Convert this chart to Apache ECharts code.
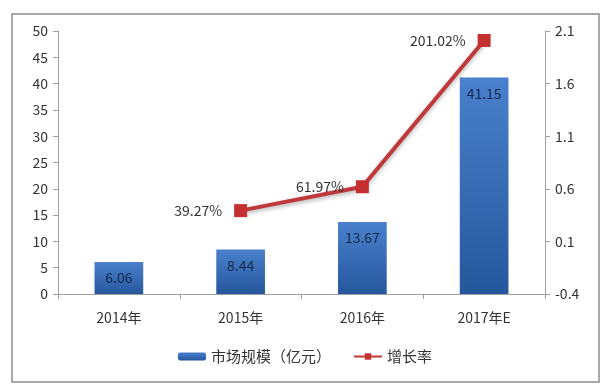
<!DOCTYPE html>
<html>
<head>
<meta charset="utf-8">
<style>
  html, body { margin: 0; padding: 0; background: #fff; }
  #chart { width: 610px; height: 390px; }
</style>
<script src="https://cdn.jsdelivr.net/npm/echarts@6/dist/echarts.min.js"></script>
</head>
<body>
<div id="chart"></div>
<script>
// 类目和数据
var years = ['2014年', '2015年', '2016年', '2017年E'];
var marketSize = [6.06, 8.44, 13.67, 41.15]; // 市场规模（亿元）
var growthRate = [null, 0.3927, 0.6197, 2.0102]; // 增长率
var rightTicks = [-0.4, 0.1, 0.6, 1.1, 1.6, 2.1];

var font = 'Noto Sans CJK SC';
var myChart = echarts.init(document.getElementById('chart'), null, { renderer: 'canvas' });

var option = {
  animation: false,
  textStyle: { fontFamily: font },
  graphic: [{
    // 外边框
    type: 'rect',
    shape: { x: 12, y: 14, width: 587, height: 368 },
    style: { fill: 'none', stroke: '#8c8c8c', lineWidth: 1.5 },
    silent: true
  }],
  grid: { left: 58, right: 65, top: 31, bottom: 96 },
  legend: {
    bottom: 21,
    left: 'center',
    itemWidth: 28,
    itemHeight: 8,
    itemGap: 22,
    textStyle: { color: '#333', fontSize: 15, fontFamily: font },
    data: ['市场规模（亿元）', '增长率']
  },
  xAxis: {
    type: 'category',
    data: years,
    axisLine: { lineStyle: { color: '#a0a0a0', width: 1 } },
    axisTick: { show: true, lineStyle: { color: '#a0a0a0' }, length: 5 },
    axisLabel: { color: '#333', fontSize: 14, margin: 17 }
  },
  yAxis: [
    {
      type: 'value',
      min: 0,
      max: 50,
      interval: 5,
      axisLine: { show: true, lineStyle: { color: '#a0a0a0' } },
      axisTick: { show: true, length: 5, lineStyle: { color: '#a0a0a0' } },
      splitLine: { show: false },
      axisLabel: { color: '#333', fontSize: 14, margin: 10 }
    },
    {
      type: 'value',
      min: -0.4,
      max: 2.1,
      axisLine: { show: true, lineStyle: { color: '#a0a0a0' } },
      axisTick: { show: true, length: 5, lineStyle: { color: '#a0a0a0' }, customValues: rightTicks },
      splitLine: { show: false },
      axisLabel: {
        color: '#333', fontSize: 14, margin: 10,
        customValues: rightTicks,
        formatter: function (v) { return (Math.round(v * 10) / 10).toString(); }
      }
    }
  ],
  series: [
    {
      name: '市场规模（亿元）',
      type: 'bar',
      data: marketSize,
      barWidth: '40%',
      itemStyle: {
        color: new echarts.graphic.LinearGradient(0, 0, 0, 1, [
          { offset: 0, color: '#4a80cc' },
          { offset: 1, color: '#25579c' }
        ])
      },
      label: {
        show: true,
        position: 'insideTop',
        distance: 9,
        color: '#13294b',
        fontSize: 14
      }
    },
    {
      name: '增长率',
      type: 'line',
      yAxisIndex: 1,
      data: growthRate,
      symbol: 'rect',
      symbolSize: 13,
      lineStyle: {
        color: '#c0393a',
        width: 4,
        shadowColor: 'rgba(0,0,0,0.3)',
        shadowBlur: 4,
        shadowOffsetY: 2
      },
      itemStyle: { color: '#c42f2f' },
      label: {
        show: true,
        position: 'left',
        distance: 12,
        color: '#333',
        fontSize: 14,
        formatter: function (p) { return (p.value * 100).toFixed(2) + '%'; }
      }
    }
  ]
};

myChart.setOption(option, true);
</script>
</body>
</html>
